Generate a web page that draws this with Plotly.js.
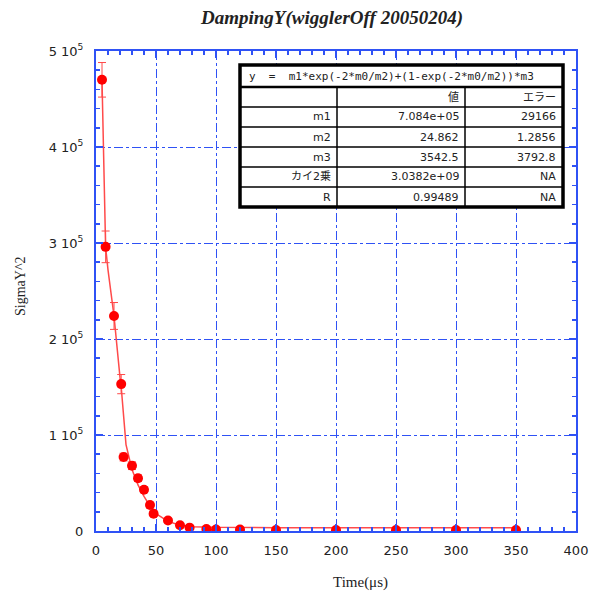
<!DOCTYPE html>
<html><head><meta charset="utf-8">
<script src="https://cdn.plot.ly/plotly-3.0.1.min.js"></script>
<style>html,body{margin:0;padding:0;background:#fff}</style>
</head><body>
<div id="chart" style="width:594px;height:595px"></div>
<script>
const timeUs   = [5, 8, 15, 21, 23, 30, 35, 40, 45, 48, 60, 70, 78, 92, 100, 120, 150, 200, 250, 300, 350];
const sigmaY2  = [470000, 296000, 224000, 153000, 77000, 68000, 55000, 43000, 27000, 18000, 11000, 6000, 3500, 2000, 1500, 1500, 1000, 1000, 1000, 1000, 1000];
const sigmaErr = [18000, 16500, 14000, 10000, 4000, 4000, 3500, 3000, 3000, 2500, 2000, 1500, 1500, 1000, 1000, 1000, 1000, 1000, 1000, 1000, 1000];
// fitted curve
const fitX = [5, 8, 10, 15, 20, 21, 25, 30, 35, 40, 45, 50, 60, 70, 80, 100, 150, 200, 250, 300, 350];
const fitY = [470000, 296000, 272000, 224000, 160000, 150000, 90000, 64000, 48000, 36000, 26000, 18000, 10000, 6000, 4500, 3800, 3500, 3500, 3500, 3500, 3500];
// ticks
const xTickVals = [0, 50, 100, 150, 200, 250, 300, 350, 400];
const yTickVals = [0, 100000, 200000, 300000, 400000, 500000];
const yTickText = ['0', '1 10<sup>5</sup>', '2 10<sup>5</sup>', '3 10<sup>5</sup>', '4 10<sup>5</sup>', '5 10<sup>5</sup>'];
// fit table
const fitFormula = 'y  =  m1*exp(-2*m0/m2)+(1-exp(-2*m0/m2))*m3';
const tableHead = ['', '値', 'エラー'];
const tableNames = ['m1', 'm2', 'm3', 'カイ2乗', 'R'];
const tableValues = ['7.084e+05', '24.862', '3542.5', '3.0382e+09', '0.99489'];
const tableErrors = ['29166', '1.2856', '3792.8', 'NA', 'NA'];

const BLUE = '#2f52f5';
const L = 96, T = 51, W = 480, H = 480;
const px = x => (x - L) / W;
const py = y => (T + H - y) / H;

const shapes = [];
const annotations = [];
// table geometry (pixels)
const tL = 240, tR = 563, tT = 65, tB = 207;
const c1 = 337, c2 = 465;
const rowLines = [87, 107, 127, 147, 167, 187];
shapes.push({type:'rect', xref:'paper', yref:'paper', x0:px(tL), x1:px(tR), y0:py(tB), y1:py(tT),
  fillcolor:'#ffffff', line:{color:'#000', width:3.5}, layer:'above'});
rowLines.forEach((r, i) => shapes.push({type:'line', xref:'paper', yref:'paper', x0:px(tL), x1:px(tR), y0:py(r), y1:py(r),
  line:{color:'#000', width: i === 0 ? 2.5 : 1.5}, layer:'above'}));
[c1, c2].forEach(c => shapes.push({type:'line', xref:'paper', yref:'paper', x0:px(c), x1:px(c), y0:py(rowLines[0]), y1:py(tB),
  line:{color:'#000', width:1.5}, layer:'above'}));

const cellFont = {family:'DejaVu Sans, Noto Sans CJK JP', size:11, color:'#222'};
annotations.push({xref:'paper', yref:'paper', x:px(247), y:py((tT + rowLines[0]) / 2), text:fitFormula,
  showarrow:false, xanchor:'left', yanchor:'middle', font:{family:'DejaVu Sans Mono', size:11, color:'#222'}});
const rowsTop = [rowLines[0]].concat(rowLines.slice(1));
const rowsBot = rowLines.slice(1).concat([tB]);
function cell(txt, right, r0, r1) {
  annotations.push({xref:'paper', yref:'paper', x:px(right), y:py((r0 + r1) / 2), text:txt, showarrow:false,
    xanchor:'right', yanchor:'middle', font:cellFont});
}
cell(tableHead[1], c2 - 4, rowsTop[0], rowsBot[0]);
cell(tableHead[2], tR - 5, rowsTop[0], rowsBot[0]);
tableNames.forEach((n, i) => {
  cell(n, c1 - 4, rowsTop[i + 1], rowsBot[i + 1]);
  cell(tableValues[i], c2 - 4, rowsTop[i + 1], rowsBot[i + 1]);
  cell(tableErrors[i], tR - 5, rowsTop[i + 1], rowsBot[i + 1]);
});

// axis titles
annotations.push({xref:'paper', yref:'paper', x:px(360), y:py(582), text:'Time(μs)', showarrow:false,
  xanchor:'center', yanchor:'middle', font:{family:'Liberation Serif', size:15, color:'#222'}});
annotations.push({xref:'paper', yref:'paper', x:px(20), y:py(287), text:'SigmaY^2', showarrow:false, textangle:-90,
  xanchor:'center', yanchor:'middle', font:{family:'Liberation Serif', size:14, color:'#222'}});

const traces = [
  {x: fitX, y: fitY, type:'scatter', mode:'lines', line:{color:'#ff4a4a', width:1.5}, hoverinfo:'skip', showlegend:false},
  {x: timeUs, y: sigmaY2, type:'scatter', mode:'markers',
   marker:{color:'#ff0000', size:10, symbol:'circle'},
   error_y:{type:'data', array: sigmaErr, visible:true, color:'#ff4a4a', thickness:1, width:4},
   showlegend:false}
];

const axisCommon = {
  showline:true, linecolor:BLUE, linewidth:2, mirror:'allticks',
  ticks:'inside', ticklen:7, tickcolor:BLUE, tickwidth:1.5,
  showgrid:true, gridcolor:BLUE, gridwidth:1, griddash:'dashdot',
  zeroline:false, tickfont:{family:'DejaVu Sans', size:13, color:'#222'}
};
const layout = {
  width:594, height:595,
  margin:{l:L, r:594 - L - W, t:T, b:595 - T - H},
  paper_bgcolor:'#fff', plot_bgcolor:'#fff',
  title:{text:'<b><i>DampingY(wigglerOff 20050204)</i></b>', xref:'paper', x:px(332), xanchor:'center',
    yref:'container', y:1 - 17 / 595, yanchor:'middle',
    font:{family:'Liberation Serif', size:19, color:'#222'}},
  xaxis: Object.assign({}, axisCommon, {range:[0, 400], tickvals:xTickVals, ticktext:xTickVals.map(String),
    ticklabelstandoff:6,
    minor:{ticks:'inside', ticklen:4, tickcolor:BLUE, dtick:10, tick0:0, showgrid:false}}),
  yaxis: Object.assign({}, axisCommon, {range:[0, 500000], tickvals:yTickVals, ticktext:yTickText,
    ticklabelstandoff:8,
    minor:{ticks:'inside', ticklen:4, tickcolor:BLUE, dtick:20000, tick0:0, showgrid:false}}),
  shapes: shapes,
  annotations: annotations,
  showlegend:false
};
Plotly.newPlot('chart', traces, layout, {displayModeBar:false, staticPlot:true});
</script>
</body></html>
